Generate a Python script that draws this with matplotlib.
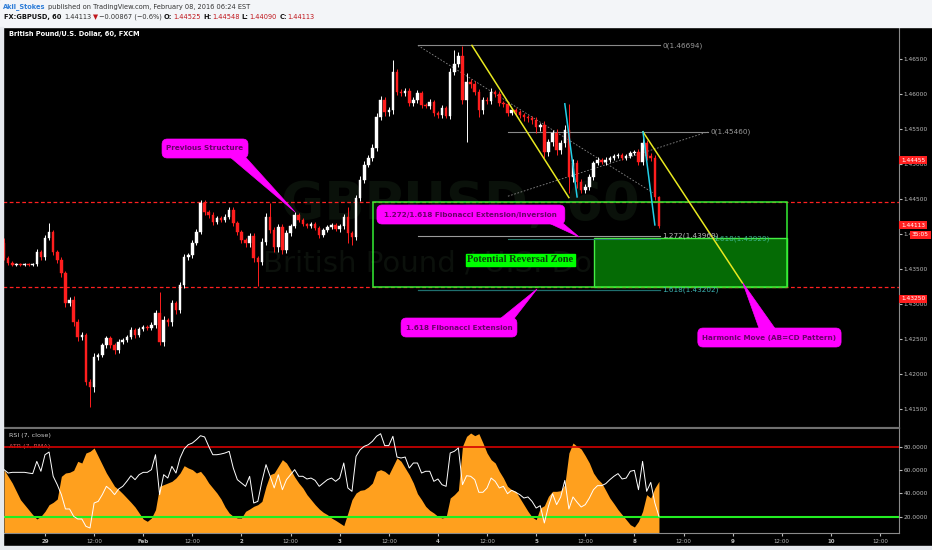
import matplotlib
matplotlib.use('Agg')
import matplotlib.pyplot as plt
import numpy as np
from matplotlib.patches import Rectangle, FancyBboxPatch, Polygon

W, H = 932, 550

# hourly bars, 0 = 29 Jan 00:00, weekend folded away like on the chart
bar_idx = np.arange(-10, 151)
first_open = 1.4387
closes = [
    1.4366, 1.4359, 1.4356, 1.4357, 1.4356, 1.4357, 1.4356, 1.4357, 1.4374, 1.4367,
    1.4394, 1.4403, 1.4374, 1.4363, 1.4344, 1.4301, 1.4306, 1.4274, 1.4253, 1.4256,
    1.4189, 1.4181, 1.4224, 1.4227, 1.4241, 1.4251, 1.4241, 1.4234, 1.4246, 1.4249,
    1.4253, 1.4263, 1.4256, 1.4264, 1.4267, 1.4266, 1.4270, 1.4287, 1.4246, 1.4277,
    1.4274, 1.4301, 1.4291, 1.4327, 1.4367, 1.4370, 1.4387, 1.4403, 1.4444, 1.4431,
    1.4427, 1.4417, 1.4423, 1.4420, 1.4424, 1.4434, 1.4416, 1.4403, 1.4391, 1.4387,
    1.4397, 1.4366, 1.4360, 1.4389, 1.4424, 1.4406, 1.4381, 1.4410, 1.4377, 1.4401,
    1.4411, 1.4427, 1.4420, 1.4414, 1.4411, 1.4414, 1.4409, 1.4399, 1.4406, 1.4410,
    1.4413, 1.4407, 1.4411, 1.4424, 1.4401, 1.4396, 1.4451, 1.4477, 1.4499, 1.4509,
    1.4523, 1.4567, 1.4591, 1.4574, 1.4577, 1.4631, 1.4603, 1.4601, 1.4604, 1.4587,
    1.4591, 1.4601, 1.4584, 1.4583, 1.4589, 1.4573, 1.4570, 1.4580, 1.4569, 1.4631,
    1.4643, 1.4654, 1.4591, 1.4617, 1.4614, 1.4603, 1.4577, 1.4591, 1.4590, 1.4603,
    1.4600, 1.4587, 1.4586, 1.4573, 1.4577, 1.4574, 1.4570, 1.4567, 1.4566, 1.4563,
    1.4553, 1.4556, 1.4517, 1.4531, 1.4544, 1.4520, 1.4530, 1.4549, 1.4481, 1.4501,
    1.4474, 1.4463, 1.4467, 1.4481, 1.4501, 1.4506, 1.4503, 1.4506, 1.4509, 1.4511,
    1.4513, 1.4509, 1.4511, 1.4516, 1.4517, 1.4503, 1.4530, 1.4511, 1.4509, 1.44525,
    1.44113,
]
# wick lengths in pips above / below the body
wick_up = [
    8, 3, 2, 2, 2, 2, 2, 2, 4, 3,
    5, 13, 3, 3, 4, 3, 4, 5, 4, 4,
    3, 4, 6, 3, 4, 3, 3, 3, 4, 3,
    3, 4, 3, 3, 3, 3, 4, 5, 30, 6,
    3, 5, 4, 4, 4, 3, 4, 4, 5, 4,
    3, 4, 3, 3, 4, 5, 4, 3, 3, 4,
    5, 4, 3, 5, 6, 21, 4, 5, 4, 5,
    4, 5, 3, 3, 2, 3, 3, 3, 3, 3,
    3, 3, 3, 4, 15, 3, 5, 6, 5, 4,
    5, 6, 6, 4, 4, 17, 5, 4, 4, 4,
    4, 5, 3, 3, 4, 3, 3, 4, 3, 6,
    20, 6, 15, 13, 5, 4, 4, 5, 4, 5,
    3, 4, 3, 4, 3, 3, 3, 3, 3, 3,
    4, 3, 6, 5, 4, 6, 5, 6, 37, 6,
    5, 4, 4, 5, 4, 4, 3, 4, 3, 3,
    3, 3, 3, 3, 3, 4, 16, 5, 5, 4,
    2.3,
]
wick_dn = [
    3, 3, 2, 2, 2, 2, 2, 2, 3, 4,
    4, 3, 4, 4, 5, 5, 4, 5, 6, 5,
    5, 28, 6, 4, 3, 4, 4, 5, 4, 3,
    3, 3, 4, 3, 3, 3, 3, 4, 5, 6,
    6, 5, 5, 4, 4, 4, 4, 3, 3, 4,
    4, 4, 3, 3, 3, 3, 4, 4, 4, 5,
    5, 6, 34, 4, 4, 5, 6, 6, 5, 4,
    4, 3, 3, 3, 3, 3, 3, 4, 3, 3,
    3, 3, 4, 4, 14, 12, 4, 4, 4, 3,
    4, 4, 4, 5, 5, 5, 5, 4, 4, 4,
    4, 4, 4, 3, 4, 4, 4, 5, 4, 5,
    4, 4, 6, 60, 5, 4, 10, 5, 4, 4,
    4, 4, 4, 4, 3, 4, 5, 6, 6, 6,
    8, 6, 8, 5, 5, 7, 5, 5, 22, 6,
    8, 5, 4, 4, 4, 3, 3, 4, 3, 3,
    3, 3, 3, 3, 3, 4, 4, 5, 4, 4,
    2.3,
]
rsi = [
    60.3, 57.4, 58.0, 58.0, 58.0, 58.0, 57.4, 56.9, 67.4, 58.9,
    73.1, 75.4, 54.6, 47.4, 38.9, 26.6, 26.6, 20.3, 18.0, 18.0,
    11.7, 10.3, 31.7, 33.1, 38.9, 46.0, 43.1, 38.9, 43.7, 46.0,
    50.3, 55.1, 51.7, 56.0, 58.0, 58.0, 60.3, 73.1, 38.9, 56.0,
    53.1, 63.1, 57.4, 70.3, 78.0, 81.7, 83.1, 86.0, 89.4, 88.3,
    80.3, 73.1, 73.1, 73.7, 74.6, 76.0, 61.7, 51.7, 48.9, 46.0,
    54.6, 31.7, 33.1, 50.3, 64.6, 54.6, 44.6, 56.0, 43.1, 51.7,
    56.0, 60.3, 54.6, 54.6, 52.3, 53.1, 51.1, 46.0, 48.9, 51.7,
    53.1, 50.3, 53.1, 66.0, 44.6, 41.7, 71.7, 77.4, 80.3, 81.7,
    84.6, 88.9, 91.1, 80.9, 80.9, 88.9, 71.1, 70.3, 71.1, 61.7,
    66.0, 66.0, 57.4, 58.9, 58.9, 50.3, 52.3, 47.4, 46.0, 74.6,
    76.0, 78.9, 47.4, 55.1, 54.6, 51.7, 40.9, 40.9, 44.6, 53.1,
    50.3, 44.6, 46.0, 39.7, 42.6, 40.9, 38.9, 36.0, 36.9, 33.1,
    27.4, 29.4, 14.6, 28.9, 39.7, 30.3, 36.9, 51.1, 26.6, 36.9,
    32.3, 28.3, 30.3, 36.0, 43.1, 46.6, 46.6, 48.3, 51.7, 54.6,
    56.9, 52.3, 53.1, 58.9, 59.7, 43.1, 67.4, 41.7, 49.4, 31.7,
    20.3,
]
atr_pips = [
    27.0, 25.0, 23.0, 20.5, 18.0, 16.5, 15.0, 13.5, 12.2, 13.0,
    14.5, 16.5, 17.2, 18.2, 25.0, 26.0, 26.2, 26.8, 29.5, 29.0,
    32.0, 32.5, 33.5, 31.0, 28.5, 26.0, 24.0, 22.0, 21.0, 19.8,
    18.5, 17.2, 15.8, 14.0, 12.2, 11.5, 12.5, 15.0, 22.0, 22.5,
    23.0, 23.5, 24.5, 26.0, 28.2, 27.5, 27.0, 26.0, 26.5, 25.0,
    23.0, 21.5, 20.0, 18.2, 15.8, 14.0, 13.0, 12.5, 12.5, 14.5,
    15.2, 16.0, 16.5, 17.5, 22.0, 25.5, 26.0, 28.0, 30.0, 29.0,
    27.0, 24.8, 23.0, 21.5, 19.5, 18.0, 16.5, 15.2, 14.2, 13.5,
    12.5, 11.8, 11.0, 10.2, 14.0, 18.0, 20.0, 20.8, 21.0, 21.8,
    23.0, 26.5, 27.0, 26.5, 25.5, 28.0, 30.5, 29.5, 27.5, 25.5,
    23.0, 19.8, 18.0, 16.0, 14.8, 14.0, 13.0, 12.5, 12.8, 18.5,
    19.5, 20.8, 34.0, 37.0, 38.0, 37.2, 37.8, 35.0, 32.0, 30.0,
    29.0, 26.5, 24.5, 22.0, 21.0, 20.5, 18.5, 16.5, 14.5, 12.8,
    12.0, 15.5, 16.2, 19.0, 20.5, 20.5, 20.7, 22.5, 32.0, 35.0,
    34.0, 33.2, 31.2, 29.0, 26.0, 24.2, 23.0, 20.8, 18.5, 16.8,
    15.0, 13.5, 12.0, 10.5, 9.8, 11.5, 14.5, 19.5, 18.5, 21.5,
    23.5,
]

day_ticks = np.arange(0, 205, 12)
day_labels = ['29', '12:00', 'Feb', '12:00', '2', '12:00', '3', '12:00', '4',
              '12:00', '5', '12:00', '8', '12:00', '9', '12:00', '10', '12:00']
price_ticks = [1.415, 1.420, 1.425, 1.430, 1.435, 1.440, 1.445, 1.450, 1.455, 1.460, 1.465]

structure_hi = 1.44455
structure_lo = 1.43250

closes = np.array(closes)
opens = np.concatenate([[first_open], closes[:-1]])
pip = 0.0001
highs = np.maximum(opens, closes) + np.array(wick_up) * pip
lows = np.minimum(opens, closes) - np.array(wick_dn) * pip

fig = plt.figure(figsize=(W / 100, H / 100), dpi=100, facecolor='black')
fig.patches.append(Rectangle((0, 1 - 27 / H), 1, 27 / H, transform=fig.transFigure,
                             color='#f3f5f8', zorder=0))
fig.patches.append(Rectangle((0, 0), 3 / W, 1 - 27 / H, transform=fig.transFigure,
                             color='#e6e9ee', zorder=0))
fig.patches.append(Rectangle((0, 0), 1, 4 / H, transform=fig.transFigure,
                             color='#e6e9ee', zorder=0))

# header, pieces laid out one after another
renderer = fig.canvas.get_renderer()


def header_line(x, y, pieces, size=4.8):
    for s, color, weight, gap in pieces:
        t = fig.text(x / W, 1 - y / H, s, va='center', ha='left', fontsize=size,
                     color=color, weight=weight)
        x += t.get_window_extent(renderer).width + gap


red = '#c0161c'
header_line(3, 7, [('Akil_Stokes', '#2f7ed8', 'bold', 2.5),
                   ('published on TradingView.com, February 08, 2016 06:24 EST',
                    '#333333', 'normal', 0)])
header_line(4, 17, [('FX:GBPUSD, 60', '#111111', 'bold', 2.5),
                    ('1.44113', '#333333', 'normal', 1.5),
                    ('\u25bc', red, 'normal', 1),
                    ('\u22120.00867 (\u22120.6%)', '#333333', 'normal', 2.5),
                    ('O:', '#111111', 'bold', 0.5), ('1.44525', red, 'normal', 2.5),
                    ('H:', '#111111', 'bold', 0.5), ('1.44548', red, 'normal', 2.5),
                    ('L:', '#111111', 'bold', 0.5), ('1.44090', red, 'normal', 2.5),
                    ('C:', '#111111', 'bold', 0.5), ('1.44113', red, 'normal', 0)])

# main price pane
ax = fig.add_axes([3 / W, 1 - 428 / H, 896 / W, 401 / H])
ax.set_facecolor('black')
ax.set_xlim(-10.26, 208.65)
ax.set_ylim(1.41229, 1.46957)
ASPECT = 4.093 / 7000

ax.text(0.51, 0.555, 'GBPUSD, 60', transform=ax.transAxes, ha='center', va='center',
        fontsize=38, weight='bold', color='#0a110a', zorder=0)
ax.text(0.5, 0.41, 'British Pound / U.S. Dollar', transform=ax.transAxes, ha='center',
        va='center', fontsize=21, color='#0b100b', zorder=0)
ax.text(0.007, 0.99, 'British Pound/U.S. Dollar, 60, FXCM', transform=ax.transAxes,
        color='white', fontsize=4.8, weight='bold', va='top')

up = closes >= opens
colors = np.where(up, '#ffffff', '#ff1e1e')
ax.vlines(bar_idx, lows, highs, colors=colors, lw=0.7, zorder=4)
body = np.maximum(np.abs(closes - opens), 0.00007)
ax.bar(bar_idx, body, bottom=np.minimum(opens, closes), width=0.62, color=colors,
       edgecolor=colors, lw=0.3, zorder=5)

for lvl in (structure_hi, structure_lo):
    ax.axhline(lvl, color='#ff2020', ls=(0, (3, 2)), lw=0.9, zorder=3)

# potential reversal zone
ax.add_patch(Rectangle((80.1, structure_lo), 181.3 - 80.1, structure_hi - structure_lo,
                       fill=False, ec='#33ee33', lw=1.1, zorder=6))
ax.add_patch(Rectangle((134.1, structure_lo), 181.3 - 134.1, 1.4395 - structure_lo,
                       fc='#056b05', ec='#44ee44', lw=1.0, zorder=2))
ax.text(116.1, 1.43629, 'Potential Reversal Zone', ha='center', va='center',
        family='Liberation Serif', weight='bold', fontsize=7.5, color='#0b3d0b', zorder=9,
        bbox=dict(boxstyle='square,pad=0.15', fc='#00ff00', ec='#00ff00'))

# fibonacci drawings
ax.plot([91.1, 150.3], [1.46694, 1.46694], color='#8a8a8a', lw=0.8, zorder=3)
ax.plot([91.1, 148.5], [1.46694, 1.4459], color='#8a8a8a', lw=0.6, ls=(0, (2, 2)), zorder=3)
ax.plot([91.1, 150.3], [1.43969, 1.43969], color='#9a9a9a', lw=0.8, zorder=3)
ax.plot([91.1, 150.3], [1.43202, 1.43202], color='#1f6f6f', lw=0.9, zorder=3)
ax.plot([113.1, 162.0], [1.4546, 1.4546], color='#8a8a8a', lw=0.8, zorder=3)
ax.plot([113.1, 162.0], [1.4454, 1.4546], color='#8a8a8a', lw=0.6, ls=(0, (2, 2)), zorder=3)
ax.plot([113.1, 150.3], [1.43929, 1.43929], color='#2a7a6a', lw=0.8, zorder=3)
fib_kw = dict(fontsize=5.2, va='center', ha='left', zorder=7)
ax.text(150.8, 1.46694, '0(1.46694)', color='#9a9a9a', **fib_kw)
ax.text(162.6, 1.4546, '0(1.45460)', color='#9a9a9a', **fib_kw)
ax.text(150.8, 1.43969, '1.272(1.43969)', color='#b8b8b8', **fib_kw)
ax.text(163.2, 1.43929, '1.618(1.43929)', color='#3cb48c', **fib_kw)
ax.text(150.8, 1.43202, '1.618(1.43202)', color='#3cb4b4', **fib_kw)

# AB=CD legs
ax.plot([104.3, 128.0], [1.46694, 1.4452], color='#e8e820', lw=1.1, zorder=6)
ax.plot([146.1, 170.4], [1.4546, 1.4330], color='#e8e820', lw=1.1, zorder=6)
ax.plot([127.0, 130.0], [1.4586, 1.4453], color='#22d0e8', lw=1.1, zorder=6)
ax.plot([146.1, 149.0], [1.4546, 1.4413], color='#22d0e8', lw=1.1, zorder=6)


def callout(text, t0, t1, p_lo, p_hi, tip, base_t, base_p):
    ax.add_patch(Polygon([(base_t[0], base_p), (base_t[1], base_p), tip], closed=True,
                         fc='#ff00ff', ec='#ff00ff', lw=0.5, zorder=8))
    ax.add_patch(FancyBboxPatch((t0, p_lo), t1 - t0, p_hi - p_lo,
                                boxstyle='round,pad=0,rounding_size=1.3',
                                mutation_aspect=ASPECT, fc='#ff00ff', ec='#ff00ff',
                                lw=0.5, zorder=8))
    ax.text((t0 + t1) / 2, (p_lo + p_hi) / 2, text, ha='center', va='center',
            fontsize=5.2, weight='bold', color='#6a006a', zorder=9)


callout('Previous Structure', 28.6, 49.6, 1.45086, 1.45357, (61.1, 1.44314),
        (45.0, 48.8), 1.4511)
callout('1.272/1.618 Fibonacci Extension/Inversion', 81.1, 127.0, 1.44143, 1.44414,
        (130.5, 1.43957), (122.6, 126.2), 1.4417)
callout('1.618 Fibonacci Extension', 87.0, 115.3, 1.42529, 1.42800, (120.2, 1.43214),
        (110.8, 114.3), 1.4277)
callout('Harmonic Move (AB=CD Pattern)', 159.5, 194.5, 1.42386, 1.42657, (170.5, 1.4330),
        (174.6, 178.6), 1.4263)

ax.yaxis.tick_right()
ax.set_yticks(price_ticks)
ax.set_yticklabels(['%.5f' % p for p in price_ticks])
ax.tick_params(axis='y', colors='#bbbbbb', labelsize=4.2, length=2, pad=1.5)
ax.set_xticks([])
for s in ('left', 'top'):
    ax.spines[s].set_visible(False)
ax.spines['right'].set_color('#8a8a8a')
ax.spines['bottom'].set_color('#707070')
ax.spines['bottom'].set_linewidth(1.5)

# price tags on the scale
tag_kw = dict(fontsize=4.2, color='white', va='center', ha='left',
              bbox=dict(boxstyle='square,pad=0.3', fc='#ff2020', ec='none'))
fig.text(901 / W, 1 - 160 / H, '1.44455', **tag_kw)
fig.text(901 / W, 1 - 225 / H, '1.44113', **tag_kw)
fig.text(912 / W, 1 - 235 / H, '35:05', **tag_kw)
fig.text(901 / W, 1 - 299 / H, '1.43250', **tag_kw)

# indicator pane: ATR area + RSI line
axi = fig.add_axes([3 / W, 1 - 533 / H, 896 / W, 105 / H])
axi.set_facecolor('black')
axi.set_xlim(-10.26, 208.65)
axi.set_ylim(8, 39.5)
axi.fill_between(bar_idx, atr_pips, 0, color='#ffa01e', lw=0)
axi.set_yticks([])
axi.set_xticks(day_ticks)
axi.set_xticklabels(day_labels)
axi.tick_params(axis='x', colors='#bbbbbb', labelsize=4.0, length=2, pad=2)
for lab in axi.get_xticklabels():
    if lab.get_text() != '12:00':
        lab.set_fontweight('bold')
axi.spines['left'].set_visible(False)
axi.spines['top'].set_color('#707070')
axi.spines['top'].set_linewidth(1.5)
axi.spines['right'].set_color('#8a8a8a')
axi.spines['bottom'].set_color('#8a8a8a')

axr = axi.twinx()
axr.set_ylim(6, 96)
axr.axhline(80, color='#d40000', lw=1.2)
axr.axhline(20, color='#22ee22', lw=1.5)
axr.plot(bar_idx, rsi, color='white', lw=0.7)
axr.set_yticks([20, 40, 60, 80])
axr.set_yticklabels(['20.0000', '40.0000', '60.0000', '80.0000'])
axr.tick_params(axis='y', colors='#bbbbbb', labelsize=4.2, length=2, pad=1.5)
for s in axr.spines.values():
    s.set_visible(False)
axi.text(0.0067, 0.95, 'RSI (7, close)', transform=axi.transAxes, color='#cccccc',
         fontsize=4.6, va='top', zorder=10)
axi.text(0.0067, 0.845, 'ATR (7, RMA)', transform=axi.transAxes, color='#e05a5a',
         fontsize=4.6, va='top', zorder=10)

fig.savefig('out.png', dpi=100, facecolor=fig.get_facecolor())
